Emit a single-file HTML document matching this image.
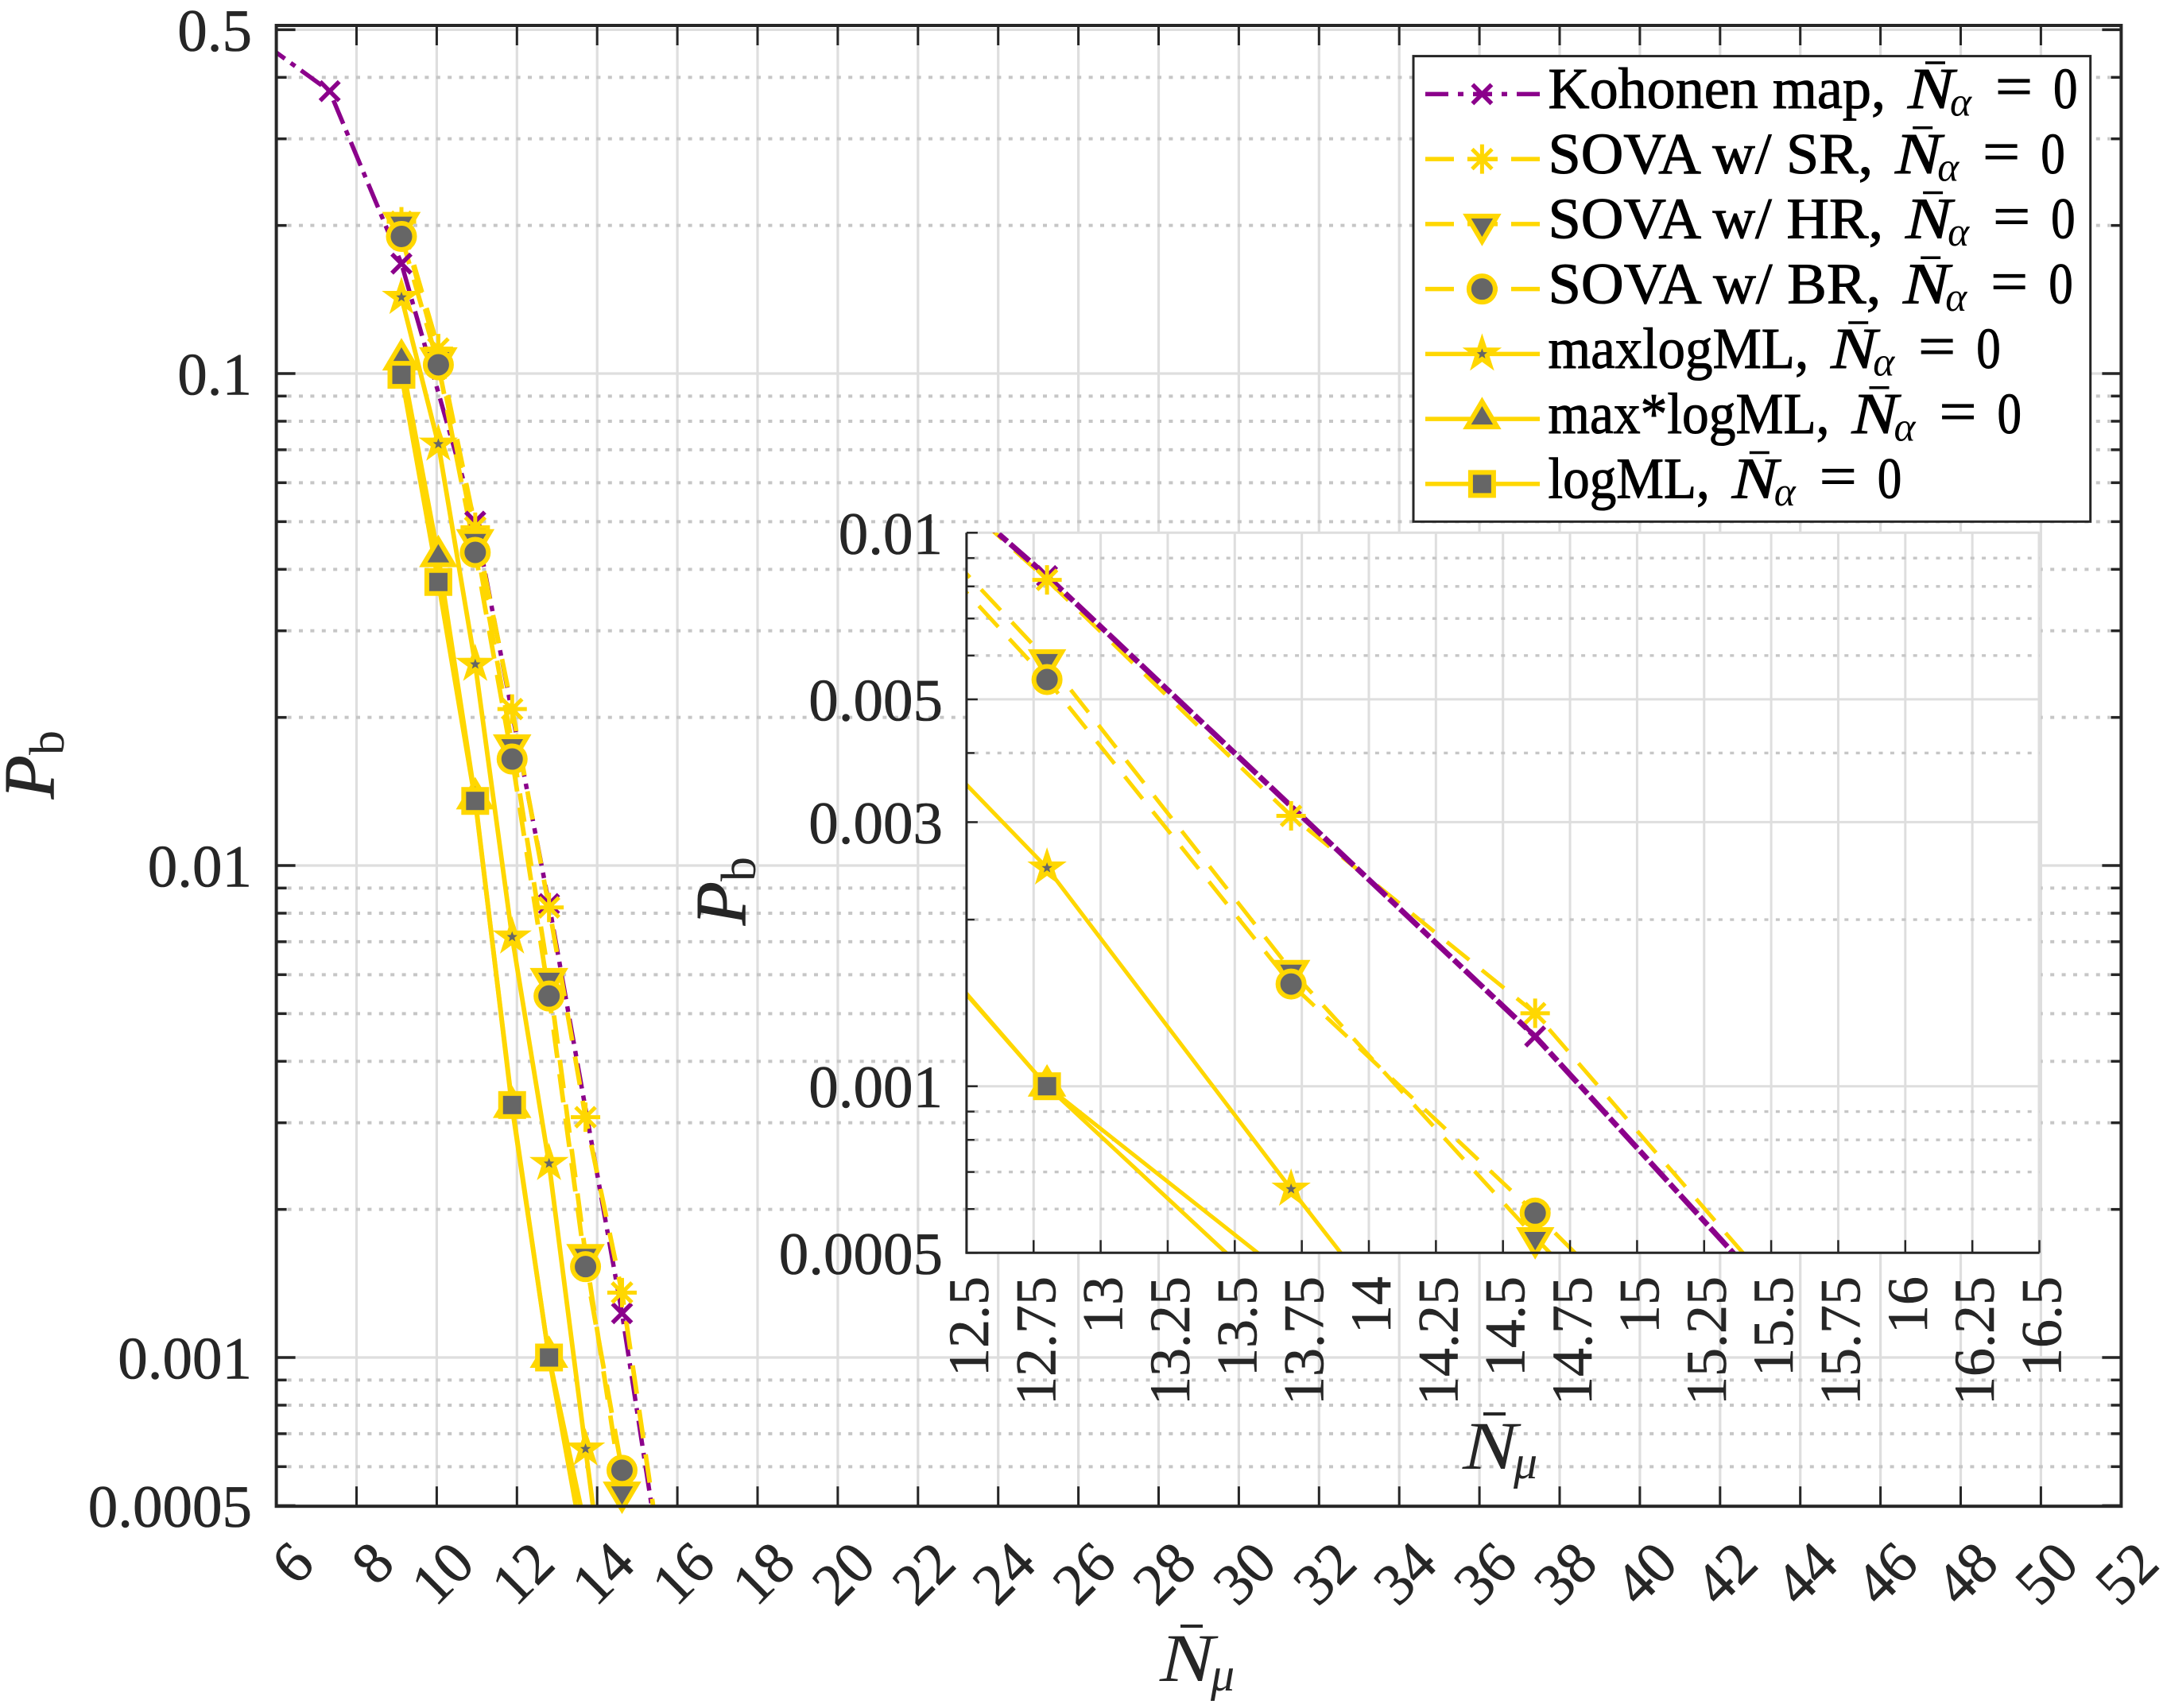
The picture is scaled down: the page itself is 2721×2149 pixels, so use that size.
<!DOCTYPE html>
<html lang="en">
<head>
<meta charset="utf-8">
<title>Pb versus N-mu chart with inset</title>
<style>
html,body{margin:0;padding:0;background:#fff;}
svg{display:block;}
text{font-family:"Liberation Serif",serif;}
</style>
</head>
<body>
<svg id="chart" xmlns="http://www.w3.org/2000/svg" width="2721" height="2149" viewBox="0 0 2721 2149">
<rect x="0" y="0" width="2721" height="2149" fill="#fff"/>
<defs>
<clipPath id="clip-main"><rect x="347.6" y="32" width="2320.8" height="1863.2"/></clipPath>
<clipPath id="clip-inset"><rect x="1215.9" y="670.3" width="1349.6" height="906"/></clipPath>
</defs>
</svg>
<script>
/* ---------- data ---------- */
const kohonenX = [5.7, 7.33, 9.12, 10.96, 12.8, 14.62, 16.45];
const kohonenY = [0.468, 0.375, 0.1673, 0.05, 0.00835, 0.00123, 0.000132];
const iterationX = [9.12, 10.04, 10.96, 11.88, 12.8, 13.71, 14.62, 15.53];
const sovaSrY = [0.2035, 0.1124, 0.0487, 0.0208, 0.00822, 0.00308, 0.001355, 0.00042];
const sovaHrY = [0.203, 0.1077, 0.046, 0.0176, 0.0059, 0.00162, 0.000533, 0.000186];
const sovaBrY = [0.19, 0.1042, 0.0433, 0.01646, 0.00543, 0.00153, 0.00059, 0.000214];
const maxlogY = [0.1429, 0.0719, 0.02565, 0.00716, 0.00248, 0.000652, 0.000177];
const maxStarLogY = [0.1065, 0.0424, 0.01365, 0.00322, 0.001, 0.000448];
const logMlY = [0.0994, 0.0377, 0.01353, 0.00326, 0.001, 0.000389];

const mainXTicks = [6, 8, 10, 12, 14, 16, 18, 20, 22, 24, 26, 28, 30, 32, 34, 36, 38, 40, 42, 44, 46, 48, 50, 52];
const mainYMajor = [0.5, 0.1, 0.01, 0.001, 0.0005];
const mainYLabels = ["0.5", "0.1", "0.01", "0.001", "0.0005"];
const mainYMinor = [0.4, 0.3, 0.2, 0.09, 0.08, 0.07, 0.06, 0.05, 0.04, 0.03, 0.02, 0.009, 0.008, 0.007, 0.006, 0.005, 0.004, 0.003, 0.002, 0.0009, 0.0008, 0.0007, 0.0006];

const insetXTicks = [12.5, 12.75, 13, 13.25, 13.5, 13.75, 14, 14.25, 14.5, 14.75, 15, 15.25, 15.5, 15.75, 16, 16.25, 16.5];
const insetYMajor = [0.01, 0.005, 0.003, 0.001, 0.0005];
const insetYLabels = ["0.01", "0.005", "0.003", "0.001", "0.0005"];
const insetYMinor = [0.009, 0.008, 0.007, 0.006, 0.004, 0.002, 0.0009, 0.0008, 0.0007, 0.0006];

/* ---------- axis functions ---------- */
function mainScaleX(v) { return 347.6 + (v - 6) * 50.45; }
function mainScaleY(v) { return 470 - 619 * (Math.log10(v) + 1); }
function insetScaleX(v) { return 1215.9 + (v - 12.5) * 337.4; }
function insetScaleY(v) { return 670.3 - 696.4 * (Math.log10(v) + 2); }

const GOLD = "#FFD700";
const PURPLE = "#8B008B";
const FILL = "#666666";
const INK = "#262626";
const GRID = "#dedede";
const DOT = "#c6c6c6";
const DASHED = "36 20.5";

const series = [
  {id: "kohonen-map", label: "Kohonen map,", labelWidth: 422.5, xs: kohonenX, ys: kohonenY, color: PURPLE, dash: "dashdot", marker: "x", legendDash: "29 12 7 12 24 12 7 12 29"},
  {id: "sova-sr", label: "SOVA w/ SR,", labelWidth: 406.7, xs: iterationX, ys: sovaSrY, color: GOLD, dash: DASHED, marker: "asterisk", legendDash: "36 17 38 17 36"},
  {id: "sova-hr", label: "SOVA w/ HR,", labelWidth: 419.6, xs: iterationX, ys: sovaHrY, color: GOLD, dash: DASHED, marker: "triDown", legendDash: "36 17 38 17 36"},
  {id: "sova-br", label: "SOVA w/ BR,", labelWidth: 416.7, xs: iterationX, ys: sovaBrY, color: GOLD, dash: DASHED, marker: "circle", legendDash: "36 17 38 17 36"},
  {id: "maxlogml", label: "maxlogML,", labelWidth: 325.7, xs: iterationX, ys: maxlogY, color: GOLD, dash: null, marker: "star", legendDash: null},
  {id: "maxstar-logml", label: "max*logML,", labelWidth: 352, xs: iterationX, ys: maxStarLogY, color: GOLD, dash: null, marker: "triUp", legendDash: null},
  {id: "logml", label: "logML,", labelWidth: 201.3, xs: iterationX, ys: logMlY, color: GOLD, dash: null, marker: "square", legendDash: null}
];

const NS = "http://www.w3.org/2000/svg";
const root = document.getElementById("chart");

function mk(tag, attrs, parent, content) {
  const n = document.createElementNS(NS, tag);
  for (const k in attrs) n.setAttribute(k, attrs[k]);
  if (content !== undefined) n.textContent = content;
  (parent || root).appendChild(n);
  return n;
}

function starPoints(R, r) {
  const pts = [];
  for (let i = 0; i < 10; i++) {
    const a = -Math.PI / 2 + i * Math.PI / 5;
    const q = i % 2 === 0 ? R : r;
    pts.push((q * Math.cos(a)).toFixed(2) + "," + (q * Math.sin(a)).toFixed(2));
  }
  return pts.join(" ");
}

function drawMarker(kind, color, x, y, parent) {
  const g = mk("g", {transform: "translate(" + x.toFixed(2) + "," + y.toFixed(2) + ")"}, parent);
  if (kind === "x") {
    mk("path", {d: "M-12,-12L12,12M-12,12L12,-12", fill: "none", stroke: color, "stroke-width": 5.5}, g);
  } else if (kind === "asterisk") {
    mk("path", {d: "M0,-18.5V18.5M-18.5,0H18.5M-12.5,-12.5L12.5,12.5M-12.5,12.5L12.5,-12.5", fill: "none", stroke: color, "stroke-width": 5}, g);
  } else if (kind === "triDown") {
    mk("polygon", {points: "-19,-10 19,-10 0,22", fill: FILL, stroke: color, "stroke-width": 6}, g);
  } else if (kind === "triUp") {
    mk("polygon", {points: "-19,10 19,10 0,-22", fill: FILL, stroke: color, "stroke-width": 6}, g);
  } else if (kind === "circle") {
    mk("circle", {cx: 0, cy: 0, r: 16.5, fill: FILL, stroke: color, "stroke-width": 6}, g);
  } else if (kind === "star") {
    mk("polygon", {points: starPoints(26, 10), fill: color}, g);
    mk("polygon", {points: starPoints(7, 3), fill: FILL}, g);
  } else if (kind === "square") {
    mk("rect", {x: -14.5, y: -14.5, width: 29, height: 29, fill: FILL, stroke: color, "stroke-width": 6}, g);
  }
  return g;
}

function linePath(xs, ys, sx, sy) {
  let d = "";
  for (let i = 0; i < ys.length; i++) {
    d += (i === 0 ? "M" : "L") + sx(xs[i]).toFixed(2) + "," + sy(ys[i]).toFixed(2);
  }
  return d;
}

function drawSeries(parent, clipId, sx, sy, box, order, width, purpleWidth, purpleDash) {
  const lines = mk("g", {"clip-path": "url(#" + clipId + ")"}, parent);
  
  
  order.forEach(function (idx) {
    const s = series[idx];
    const attrs = {d: linePath(s.xs, s.ys, sx, sy), fill: "none", stroke: s.color, "stroke-width": idx === 0 ? purpleWidth : width};
    if (s.dash) attrs["stroke-dasharray"] = s.dash === "dashdot" ? purpleDash : s.dash;
    const p = mk("path", attrs, lines);
    
    
  });
  series.forEach(function (s) {
    for (let i = 0; i < s.ys.length; i++) {
      const px = sx(s.xs[i]);
      const py = sy(s.ys[i]);
      if (px < box.x0 || px > box.x1 || py < box.y0 || py > box.y1) continue;
      const m = drawMarker(s.marker, s.color, px, py, parent);
      
      
    }
  });
}

/* ---------- main axes ---------- */
const M = {x0: 347.6, x1: 2668.4, y0: 32, y1: 1895.2};

const mainGrid = mk("g", {});


mainXTicks.forEach(function (t) {
  const x = mainScaleX(t);
  const l = mk("line", {x1: x, x2: x, y1: M.y0, y2: M.y1, stroke: GRID, "stroke-width": 3.2}, mainGrid);
  
  
});
mainYMinor.forEach(function (t) {
  const y = mainScaleY(t);
  const l = mk("line", {x1: M.x0 + 14, x2: M.x1 - 14, y1: y, y2: y, stroke: DOT, "stroke-width": 4, "stroke-dasharray": "5 9.4"}, mainGrid);
  
  
});
mainYMajor.forEach(function (t) {
  const y = mainScaleY(t);
  const l = mk("line", {x1: M.x0, x2: M.x1, y1: y, y2: y, stroke: GRID, "stroke-width": 3.2}, mainGrid);
  
  
});

const mainPlot = mk("g", {});


drawSeries(mainPlot, "clip-main", mainScaleX, mainScaleY, M, [0, 1, 2, 3, 4, 5, 6], 5.8, 5.5, "32 9 7 9");

const mainAxes = mk("g", {});


const mainFrame = mk("rect", {x: M.x0, y: M.y0, width: M.x1 - M.x0, height: M.y1 - M.y0, fill: "none", stroke: INK, "stroke-width": 4}, mainAxes);


const labelStroke = {fill: INK, stroke: INK, "stroke-width": 0.6};
mainXTicks.forEach(function (t) {
  const x = mainScaleX(t);
  const a = mk("line", {x1: x, x2: x, y1: M.y1, y2: M.y1 - 25, stroke: INK, "stroke-width": 3}, mainAxes);
  
  
  const b = mk("line", {x1: x, x2: x, y1: M.y0, y2: M.y0 + 25, stroke: INK, "stroke-width": 3}, mainAxes);
  
  
  const lab = mk("text", Object.assign({transform: "translate(" + (x + 33) + ",1953) rotate(-45)", y: 25, "text-anchor": "end", "font-size": 74}, labelStroke), mainAxes, String(t));
  
  
});
mainYMinor.forEach(function (t) {
  const y = mainScaleY(t);
  const a = mk("line", {x1: M.x0, x2: M.x0 + 13, y1: y, y2: y, stroke: INK, "stroke-width": 3.5}, mainAxes);
  
  
  const b = mk("line", {x1: M.x1, x2: M.x1 - 13, y1: y, y2: y, stroke: INK, "stroke-width": 3.5}, mainAxes);
  
  
});
mainYMajor.forEach(function (t, i) {
  const y = mainScaleY(t);
  const a = mk("line", {x1: M.x0, x2: M.x0 + 24, y1: y, y2: y, stroke: INK, "stroke-width": 3.5}, mainAxes);
  
  
  const b = mk("line", {x1: M.x1, x2: M.x1 - 24, y1: y, y2: y, stroke: INK, "stroke-width": 3.5}, mainAxes);
  
  
  const lab = mk("text", Object.assign({x: 317, y: y + 26.5, "text-anchor": "end", "font-size": 75}, labelStroke), mainAxes, mainYLabels[i]);
  
  
});

/* ---------- inset axes ---------- */
const I = {x0: 1215.9, x1: 2565.5, y0: 670.3, y1: 1576.3};

const insetBg = mk("rect", {x: I.x0, y: I.y0, width: I.x1 - I.x0, height: I.y1 - I.y0, fill: "#fff"});



const insetGrid = mk("g", {});


insetXTicks.forEach(function (t) {
  const x = insetScaleX(t);
  const l = mk("line", {x1: x, x2: x, y1: I.y0, y2: I.y1, stroke: GRID, "stroke-width": t === 16.5 ? 4 : 3}, insetGrid);
  
  
});
insetYMinor.forEach(function (t) {
  const y = insetScaleY(t);
  const l = mk("line", {x1: I.x0 + 10, x2: I.x1, y1: y, y2: y, stroke: DOT, "stroke-width": 3.3, "stroke-dasharray": "5 9.4"}, insetGrid);
  
  
});
insetYMajor.forEach(function (t) {
  const y = insetScaleY(t);
  const l = mk("line", {x1: I.x0, x2: I.x1, y1: y, y2: y, stroke: GRID, "stroke-width": 3}, insetGrid);
  
  
});

const insetPlot = mk("g", {});


drawSeries(insetPlot, "clip-inset", insetScaleX, insetScaleY, I, [1, 0, 2, 3, 4, 5, 6], 5, 7, "32 5 14 5");

const insetAxes = mk("g", {});


const insetLeft = mk("line", {x1: I.x0, x2: I.x0, y1: I.y0, y2: I.y1, stroke: INK, "stroke-width": 3}, insetAxes);


const insetBottom = mk("line", {x1: I.x0 - 1.5, x2: I.x1, y1: I.y1, y2: I.y1, stroke: INK, "stroke-width": 3}, insetAxes);


insetXTicks.forEach(function (t) {
  const x = insetScaleX(t);
  const a = mk("line", {x1: x, x2: x, y1: I.y1, y2: I.y1 - 16, stroke: INK, "stroke-width": 2.5}, insetAxes);
  
  
  const lab = mk("text", Object.assign({transform: "translate(" + (x + 27) + ",1606) rotate(-90)", "text-anchor": "end", "font-size": 72}, labelStroke), insetAxes, String(t));
  
  
});
insetYMinor.forEach(function (t) {
  const y = insetScaleY(t);
  const a = mk("line", {x1: I.x0, x2: I.x0 + 10, y1: y, y2: y, stroke: INK, "stroke-width": 2.5}, insetAxes);
  
  
});
insetYMajor.forEach(function (t, i) {
  const y = insetScaleY(t);
  const a = mk("line", {x1: I.x0, x2: I.x0 + 14, y1: y, y2: y, stroke: INK, "stroke-width": 2.5}, insetAxes);
  
  
  const lab = mk("text", Object.assign({x: 1186, y: y + 26.5, "text-anchor": "end", "font-size": 75}, labelStroke), insetAxes, insetYLabels[i]);
  
  
});

/* ---------- axis titles ---------- */
function drawPb(x, y, name) {
  const g = mk("g", {});
  
  
  mk("text", {transform: "translate(" + x + "," + y + ") rotate(-90)", "font-size": 90, "font-style": "italic", fill: INK, stroke: INK, "stroke-width": 1}, g, "P");
  mk("text", {transform: "translate(" + (x + 13) + "," + (y - 55) + ") rotate(-90)", "font-size": 62, fill: INK}, g, "b");
}
function drawNmu(x, base, name) {
  const g = mk("g", {});
  
  
  mk("text", {transform: "translate(" + x + "," + base + ") scale(1.2,1)", "font-size": 86, "font-style": "italic", fill: INK}, g, "N");
  mk("line", {x1: x + 26, x2: x + 54, y1: base - 69, y2: base - 69, stroke: INK, "stroke-width": 4}, g);
  mk("text", {x: x + 64, y: base + 12, "font-size": 60, "font-style": "italic", fill: INK}, g, "μ");
}
drawPb(67, 1005, "main-y-axis-title");
drawPb(937, 1164, "inset-y-axis-title");
drawNmu(1459, 2115, "main-x-axis-title");
drawNmu(1840, 1848, "inset-x-axis-title");

/* ---------- legend ---------- */
const legend = mk("g", {});


const legendBox = mk("rect", {x: 1778, y: 70.6, width: 851.7, height: 585.7, fill: "#fff", stroke: INK, "stroke-width": 3}, legend);


series.forEach(function (s, i) {
  const cy = 118.4 + i * 81.75;
  const base = cy + 17.6;
  const row = mk("g", {}, legend);
  
  
  const attrs = {x1: 1793, x2: 1937, y1: cy, y2: cy, stroke: s.color, "stroke-width": 5.5};
  if (s.legendDash) attrs["stroke-dasharray"] = s.legendDash;
  mk("line", attrs, row);
  drawMarker(s.marker, s.color, 1864.4, cy, row);
  const common = {fill: "#000", stroke: "#000", "stroke-width": 1, "font-size": 73};
  mk("text", Object.assign({x: 1947.5, y: base, textLength: s.labelWidth + 2, lengthAdjust: "spacingAndGlyphs"}, common), row, s.label);
  const nx = 1949.5 + s.labelWidth + 28;
  mk("text", Object.assign({x: nx, y: base, textLength: 58, lengthAdjust: "spacingAndGlyphs", "font-style": "italic"}, common), row, "N");
  mk("line", {x1: nx + 22, x2: nx + 47, y1: base - 57, y2: base - 57, stroke: "#000", "stroke-width": 3.5}, row);
  mk("text", {x: nx + 53, y: base + 9.5, "font-size": 52, "font-style": "italic", fill: "#000", textLength: 27, lengthAdjust: "spacingAndGlyphs"}, row, "α");
  mk("text", Object.assign({x: nx + 110, y: base - 3, textLength: 47, lengthAdjust: "spacingAndGlyphs"}, common), row, "=");
  mk("text", Object.assign({x: nx + 183, y: base, textLength: 30.5, lengthAdjust: "spacingAndGlyphs"}, common), row, "0");
});
</script>
</body>
</html>
